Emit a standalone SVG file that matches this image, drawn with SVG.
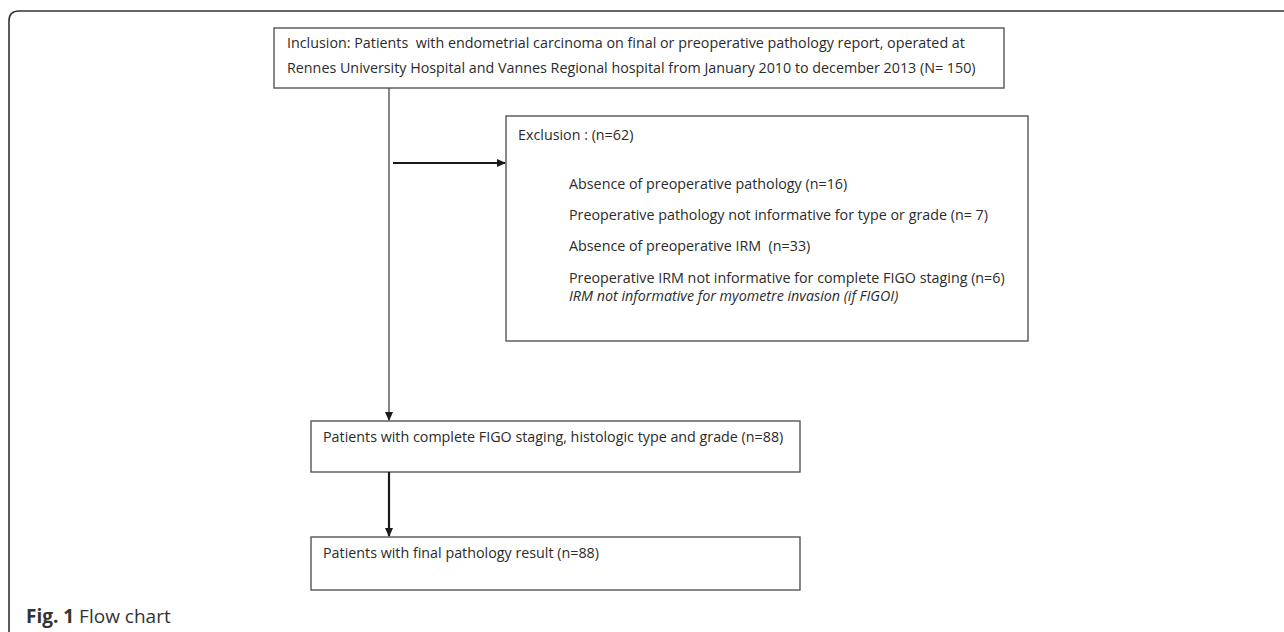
<svg xmlns="http://www.w3.org/2000/svg" width="1284" height="632" viewBox="0 0 1284 632">
<style>
.box{fill:#fff;stroke:#555;stroke-width:1.4}
.t{font-family:"Open Sans","Noto Sans",sans-serif;font-size:14.3px;fill:#2b2b2b;white-space:pre}
.i{font-style:italic}
.ln{stroke:#444;stroke-width:1.3;fill:none}
.lnb{stroke:#1a1a1a;stroke-width:2.2;fill:none}
</style>
<defs>
<marker id="ah" markerWidth="9" markerHeight="9" refX="8" refY="4.5" orient="auto" markerUnits="userSpaceOnUse" viewBox="0 0 9 9">
<path d="M0,0.5 L9,4.5 L0,8.5 z" fill="#1a1a1a"/>
</marker>
</defs>
<rect width="1284" height="632" fill="#fff"/>
<path d="M9,632 V21 Q9,11 19,11 H1284" fill="none" stroke="#333" stroke-width="1.6"/>
<g id="inclusion">
<rect class="box" x="274" y="28" width="730" height="60"/>
<text class="t" x="287" y="48" xml:space="preserve">Inclusion: Patients  with endometrial carcinoma on final or preoperative pathology report, operated at</text>
<text class="t" x="287" y="73">Rennes University Hospital and Vannes Regional hospital from January 2010 to december 2013 (N= 150)</text>
</g>
<g id="exclusion">
<rect class="box" x="506" y="116" width="522" height="225"/>
<text class="t" x="518" y="140">Exclusion : (n=62)</text>
<text class="t" x="569" y="189">Absence of preoperative pathology (n=16)</text>
<text class="t" x="569" y="220">Preoperative pathology not informative for type or grade (n= 7)</text>
<text class="t" x="569" y="251" xml:space="preserve">Absence of preoperative IRM  (n=33)</text>
<text class="t" x="569" y="283">Preoperative IRM not informative for complete FIGO staging (n=6)</text>
<text class="t i" x="569" y="301">IRM not informative for myometre invasion (if FIGOI)</text>
</g>
<g id="figo">
<rect class="box" x="311" y="421" width="489" height="51"/>
<text class="t" x="323" y="442">Patients with complete FIGO staging, histologic type and grade (n=88)</text>
</g>
<g id="final">
<rect class="box" x="311" y="537" width="489" height="53"/>
<text class="t" x="323" y="558">Patients with final pathology result (n=88)</text>
</g>
<g id="connectors">
<line class="ln" x1="389" y1="88" x2="389" y2="420" marker-end="url(#ah)"/>
<line class="lnb" x1="393" y1="163" x2="505" y2="163" marker-end="url(#ah)"/>
<line class="lnb" x1="389" y1="472" x2="389" y2="536" marker-end="url(#ah)"/>
</g>
<g id="caption">
<text x="26" y="623" style="font-family:'Open Sans','Noto Sans',sans-serif;font-size:19px;fill:#333"><tspan font-weight="bold">Fig. 1</tspan> Flow chart</text>
</g>
</svg>
